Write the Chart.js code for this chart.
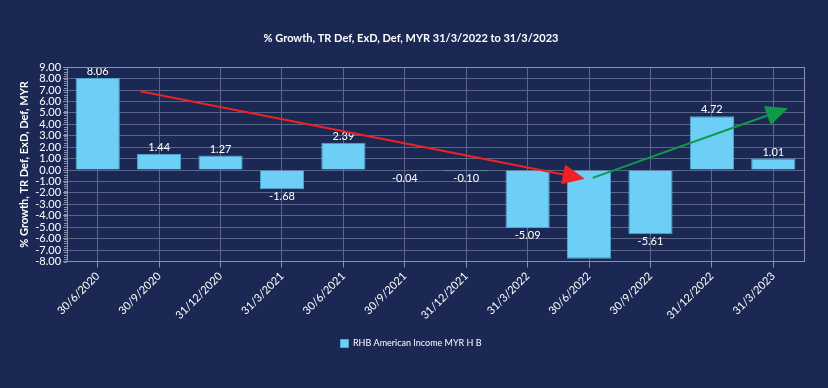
<!DOCTYPE html>
<html><head><meta charset="utf-8">
<script src="https://cdn.jsdelivr.net/npm/chart.js@4"></script>
<style>html,body{margin:0;padding:0;background:#1b2853;}#wrap{width:828px;height:388px;}</style>
</head><body><div id="wrap"><canvas id="c" width="828" height="388"></canvas></div>
<script>
const categories = ['30/6/2020','30/9/2020','31/12/2020','31/3/2021','30/6/2021','30/9/2021','31/12/2021','31/3/2022','30/6/2022','30/9/2022','31/12/2022','31/3/2023'];
const growth = [8.06, 1.44, 1.27, -1.68, 2.39, -0.04, -0.10, -5.09, -7.76, -5.61, 4.72, 1.01];
const showLabel = [true,true,true,true,true,true,true,true,false,true,true,true];
const seriesName = 'RHB American Income MYR H B';
const titleText = '% Growth, TR Def, ExD, Def, MYR 31/3/2022 to 31/3/2023';
const yTitle = '% Growth, TR Def, ExD, Def, MYR';
// arrows in data terms: [xIndex, yValue]
const redArrow = [[0.69, 6.9], [7.93, -0.75]];
const greenArrow = [[8.06, -0.68], [11.24, 5.42]];

const FONT = 'Lato, "Open Sans", sans-serif';

const bgPlugin = {
  id:'bg',
  beforeDraw(chart){
    const ctx = chart.ctx;
    ctx.save(); ctx.fillStyle = '#1b2853'; ctx.fillRect(0,0,chart.width,chart.height); ctx.restore();
  }
};
const minorTicks = {
  id:'minor',
  afterDraw(chart){
    const y = chart.scales.y, ca = chart.chartArea, ctx = chart.ctx;
    ctx.save(); ctx.strokeStyle = '#8a91ad'; ctx.lineWidth = 1;
    for (let v = -8; v < 9; v += 0.2) {
      const py = Math.round(y.getPixelForValue(v)) + 0.5;
      ctx.beginPath(); ctx.moveTo(ca.left - 3, py); ctx.lineTo(ca.left, py); ctx.stroke();
    }
    ctx.strokeRect(Math.round(ca.left)+0.5, Math.round(ca.top)+0.5, Math.round(ca.right-ca.left), Math.round(ca.bottom-ca.top));
    ctx.restore();
  }
};
const valueLabels = {
  id:'vals',
  afterDatasetsDraw(chart){
    const ctx = chart.ctx, meta = chart.getDatasetMeta(0);
    ctx.save(); ctx.fillStyle = '#ffffff'; ctx.font = '11px ' + FONT; ctx.textAlign = 'center';
    meta.data.forEach((bar, i) => {
      if (!showLabel[i]) return;
      const v = growth[i];
      if (v >= 0) { ctx.textBaseline = 'bottom'; ctx.fillText(v.toFixed(2), bar.x, bar.y - 1); }
      else { ctx.textBaseline = 'top'; ctx.fillText(v.toFixed(2), bar.x, bar.y + 2); }
    });
    ctx.restore();
  }
};
function drawArrow(ctx, x1, y1, x2, y2, color){
  const ang = Math.atan2(y2-y1, x2-x1), L = 22, W = 10;
  const bx = x2 - L*Math.cos(ang), by = y2 - L*Math.sin(ang);
  ctx.save(); ctx.strokeStyle = color; ctx.fillStyle = color; ctx.lineWidth = 2;
  ctx.beginPath(); ctx.moveTo(x1,y1); ctx.lineTo(bx,by); ctx.stroke();
  ctx.beginPath(); ctx.moveTo(x2,y2);
  ctx.lineTo(bx + W*Math.sin(ang), by - W*Math.cos(ang));
  ctx.lineTo(bx - W*Math.sin(ang), by + W*Math.cos(ang));
  ctx.closePath(); ctx.fill(); ctx.restore();
}
const arrows = {
  id:'arrows',
  afterDraw(chart){
    const xs = chart.scales.x, ys = chart.scales.y, ctx = chart.ctx;
    const p = a => [xs.getPixelForValue(a[0]), ys.getPixelForValue(a[1])];
    let [a,b] = [p(redArrow[0]), p(redArrow[1])];
    drawArrow(ctx, a[0], a[1], b[0], b[1], '#ee2222');
    [a,b] = [p(greenArrow[0]), p(greenArrow[1])];
    drawArrow(ctx, a[0], a[1], b[0], b[1], '#0f9a48');
  }
};

new Chart(document.getElementById('c'), {
  type:'bar',
  data:{ labels: categories, datasets:[{ label: seriesName, data: growth, backgroundColor:'#6dcff6', borderColor:'#4fa8d0', borderWidth:1, barPercentage:0.72, categoryPercentage:1 }]},
  options:{
    responsive:false, animation:false, devicePixelRatio:1,
    layout:{ padding:{ left:18, right:24, top:0, bottom:30 } },
    plugins:{
      title:{ display:true, text:titleText, color:'#ffffff', font:{ family:FONT, size:11, weight:'bold' }, padding:{ top:32, bottom:22 } },
      legend:{ position:'bottom', labels:{ color:'#ffffff', font:{ family:FONT, size:9 }, boxWidth:8, boxHeight:8 , padding:15} },
      tooltip:{ enabled:false }
    },
    scales:{
      x:{ grid:{ color:'#5b6589', offset:false, tickLength:6, tickColor:'#8a91ad' }, border:{ color:'#8a91ad' },
          ticks:{ color:'#ffffff', font:{ family:FONT, size:11 }, maxRotation:45, minRotation:45, padding:2 } },
      y:{ min:-8, max:9, grid:{ color:'#5b6589', tickLength:4, tickColor:'#8a91ad' }, border:{ color:'#8a91ad' },
          ticks:{ stepSize:1, autoSkip:false, color:'#ffffff', font:{ family:FONT, size:11 }, padding:2, callback:v => Number(v).toFixed(2) },
          title:{ display:true, text:yTitle, color:'#ffffff', font:{ family:FONT, size:11, weight:'bold' }, padding:{ top:0, bottom:2 } } }
    }
  },
  plugins:[bgPlugin, minorTicks, valueLabels, arrows]
});
</script></body></html>
